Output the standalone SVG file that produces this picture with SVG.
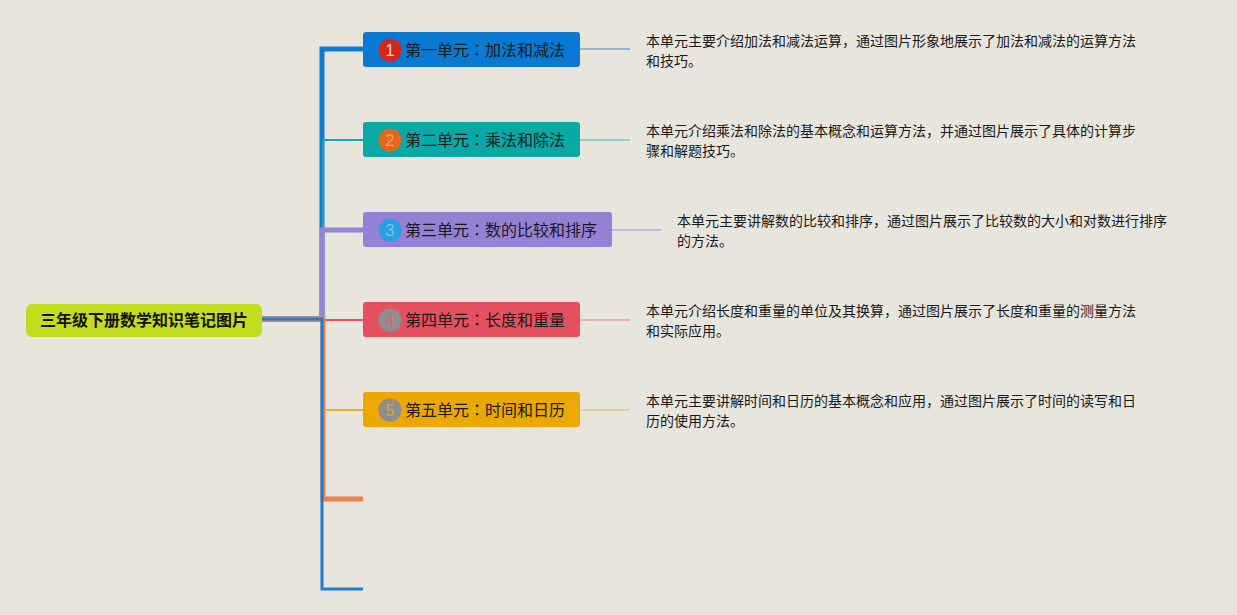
<svg xmlns="http://www.w3.org/2000/svg" width="1237" height="615" viewBox="0 0 1237 615">
<style>
.bg{fill:#e8e5dd}
.conn{fill:none;stroke-linejoin:miter;stroke-linecap:butt}
.node-t{font-family:"Noto Sans CJK SC","Noto Sans",sans-serif;font-size:16px;fill:#1a1a1a}
.colon{font-family:"Noto Sans CJK TC","Noto Sans CJK SC",sans-serif}
.root-t{font-family:"Noto Sans CJK SC","Noto Sans",sans-serif;font-size:16px;font-weight:bold;fill:#111}
.desc{font-family:"Noto Sans CJK SC","Noto Sans",sans-serif;font-size:14px;fill:#1a1a1a}
.num{font-family:"Liberation Sans",Arial,sans-serif;font-size:16px;text-anchor:middle}
</style>
<rect class="bg" x="0" y="0" width="1237" height="615"/>
<g id="connectors">
  <path class="conn" d="M262,319 H322 V49 H363" stroke="#0c7bd3" stroke-width="5"/>
  <path class="conn" d="M262,319 H323 V140 H363" stroke="#12a9ae" stroke-width="2"/>
  <path class="conn" d="M262,319 H322 V230 H363" stroke="#9683d6" stroke-width="5"/>
  <path class="conn" d="M262,320 H363" stroke="#e5505f" stroke-width="2"/>
  <path class="conn" d="M262,319 H322 V410 H363" stroke="#e8b030" stroke-width="2"/>
  <path class="conn" d="M262,319 H323 V499 H363" stroke="#ef7f4c" stroke-width="5"/>
  <path class="conn" d="M262,319 H322 V589 H363" stroke="#1a7fd5" stroke-width="3"/>
  <line x1="580" y1="49" x2="630" y2="49" stroke="#74a8d6" stroke-width="1.5"/>
  <line x1="580" y1="140" x2="630" y2="140" stroke="#7cc4c4" stroke-width="1.5"/>
  <line x1="612" y1="230" x2="662" y2="230" stroke="#b8aee0" stroke-width="1.5"/>
  <line x1="580" y1="320" x2="630" y2="320" stroke="#e9a0a8" stroke-width="1.5"/>
  <line x1="580" y1="410" x2="630" y2="410" stroke="#e8c98a" stroke-width="1.5"/>
</g>
<g id="root">
  <rect x="26" y="304" width="236" height="33" rx="6" fill="#c2dc1e"/>
  <text class="root-t" x="144" y="326" text-anchor="middle">三年级下册数学知识笔记图片</text>
</g>
<g id="unit1">
  <rect x="363" y="32" width="217" height="35" rx="3" fill="#0a79d1"/>
  <circle cx="390" cy="50" r="11.5" fill="#d8241c"/>
  <text class="num" x="390" y="56" fill="#f4e0dc">1</text>
  <text class="node-t" x="405" y="56">第一单元<tspan class="colon">：</tspan>加法和减法</text>
</g>
<g id="unit2">
  <rect x="363" y="122" width="217" height="35" rx="3" fill="#0aa9a6"/>
  <circle cx="390" cy="140" r="11.5" fill="#e2671c"/>
  <text class="num" x="390" y="146" fill="#f0a060">2</text>
  <text class="node-t" x="405" y="146">第二单元<tspan class="colon">：</tspan>乘法和除法</text>
</g>
<g id="unit3">
  <rect x="363" y="212" width="249" height="35" rx="3" fill="#9580d5"/>
  <circle cx="390" cy="230" r="11.5" fill="#2aa0e2"/>
  <text class="num" x="390" y="236" fill="#74c4f0">3</text>
  <text class="node-t" x="405" y="236">第三单元<tspan class="colon">：</tspan>数的比较和排序</text>
</g>
<g id="unit4">
  <rect x="363" y="302" width="217" height="35" rx="3" fill="#e5505f"/>
  <circle cx="390" cy="320" r="11.5" fill="#8e8e8e"/>
  <text class="num" x="390" y="326" fill="#e06474">4</text>
  <text class="node-t" x="405" y="326">第四单元<tspan class="colon">：</tspan>长度和重量</text>
</g>
<g id="unit5">
  <rect x="363" y="392" width="217" height="35" rx="3" fill="#eaa800"/>
  <circle cx="390" cy="410" r="11.5" fill="#8e8e8e"/>
  <text class="num" x="390" y="416" fill="#d8a440">5</text>
  <text class="node-t" x="405" y="416">第五单元<tspan class="colon">：</tspan>时间和日历</text>
</g>
<g id="desc1">
  <text class="desc" x="646" y="46">本单元主要介绍加法和减法运算，通过图片形象地展示了加法和减法的运算方法</text>
  <text class="desc" x="646" y="66">和技巧。</text>
</g>
<g id="desc2">
  <text class="desc" x="646" y="136">本单元介绍乘法和除法的基本概念和运算方法，并通过图片展示了具体的计算步</text>
  <text class="desc" x="646" y="156">骤和解题技巧。</text>
</g>
<g id="desc3">
  <text class="desc" x="677" y="226">本单元主要讲解数的比较和排序，通过图片展示了比较数的大小和对数进行排序</text>
  <text class="desc" x="677" y="246">的方法。</text>
</g>
<g id="desc4">
  <text class="desc" x="646" y="316">本单元介绍长度和重量的单位及其换算，通过图片展示了长度和重量的测量方法</text>
  <text class="desc" x="646" y="336">和实际应用。</text>
</g>
<g id="desc5">
  <text class="desc" x="646" y="406">本单元主要讲解时间和日历的基本概念和应用，通过图片展示了时间的读写和日</text>
  <text class="desc" x="646" y="426">历的使用方法。</text>
</g>
</svg>
